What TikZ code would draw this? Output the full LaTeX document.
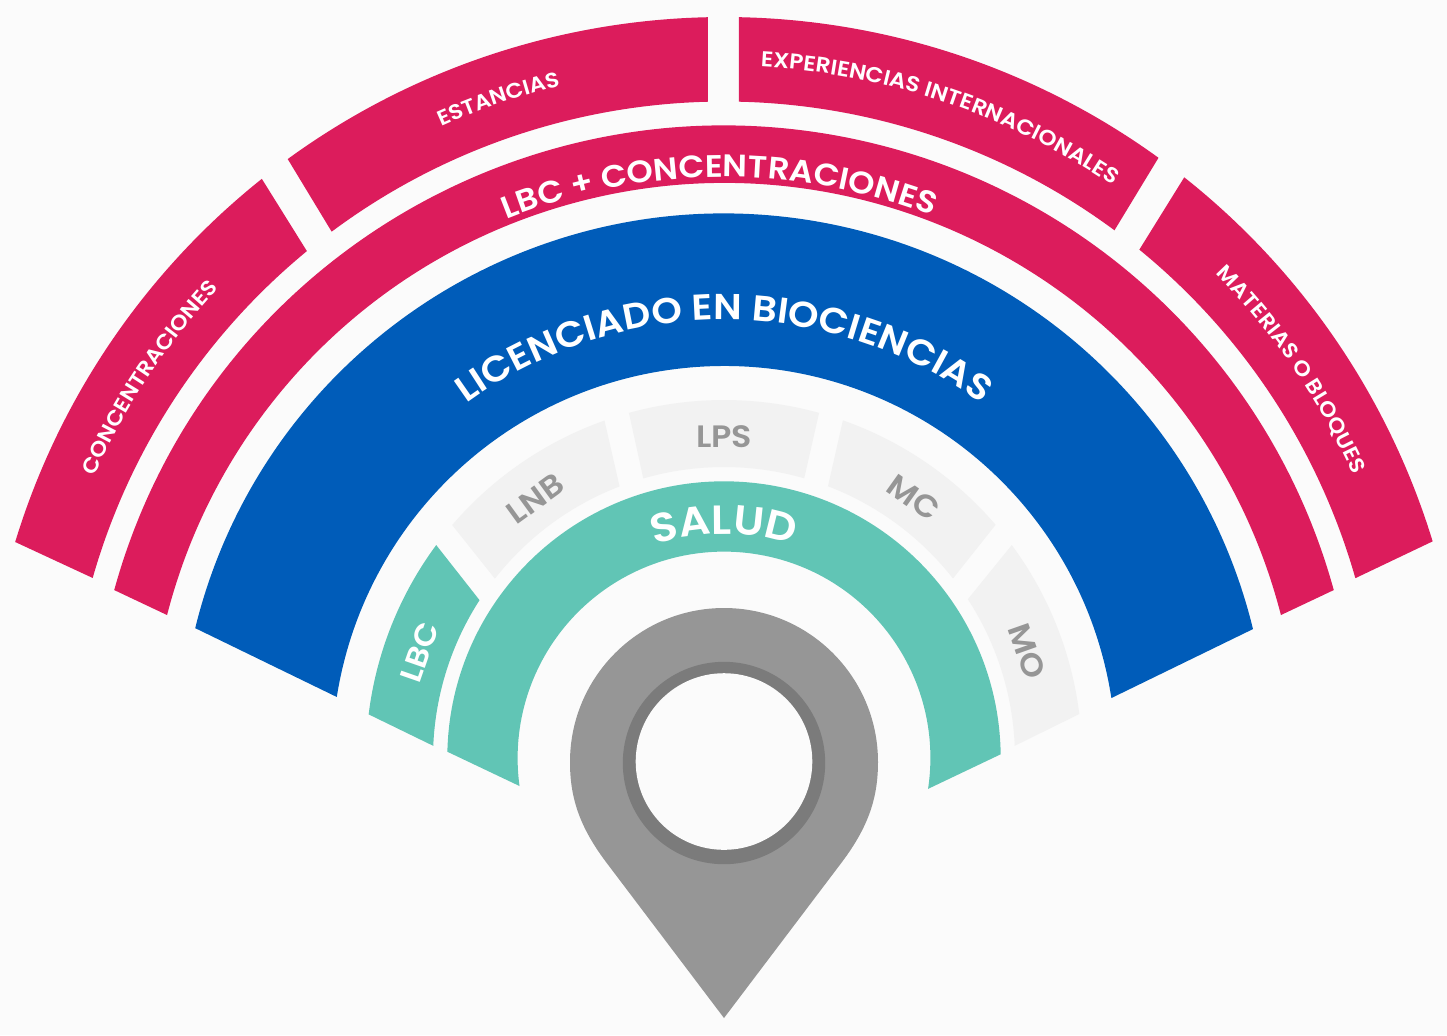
\documentclass[tikz,border=0pt]{standalone}
\usepackage{xcolor}
\usepackage{fontspec}
\setmainfont{Poppins}[BoldFont={Poppins SemiBold}, FakeStretch=1.08]
\usepackage{tikz}
\usetikzlibrary{decorations.text}

\definecolor{rosa}{HTML}{DC1C5C}
\definecolor{azul}{HTML}{005CB9}
\definecolor{verde}{HTML}{61C5B5}
\definecolor{claro}{HTML}{F2F2F2}
\definecolor{fondo}{HTML}{FBFBFB}
\definecolor{gris}{HTML}{969696}
\definecolor{anillo}{HTML}{7B7B7B}

\newcommand{\fuente}[1]{\fontsize{#1}{#1}\selectfont\bfseries}

\tikzset{
  arclabel/.style={decorate, decoration={text along path, text align=center}},
  shortwhite/.style={text=white, font=\fuente{8.6}, inner sep=0pt},
  shortgray/.style={text=gris, font=\fuente{8.8}, inner sep=0pt}
}

\begin{document}
\begin{tikzpicture}
    \fill[fondo] (-7.24, -2.77) rectangle (7.23, 7.58);
    \useasboundingbox (-7.24, -2.77) rectangle (7.23, 7.58);

    % outer ring
    \fill[rosa] (163.05:7.41) arc (163.05:128.59:7.41) -- (129.45:6.565) arc (129.45:164.08:6.565) -- cycle;
    \fill[rosa] (126.07:7.41) arc (126.07:91.24:7.41) -- (91.4:6.565) arc (91.4:126.7:6.565) -- cycle;
    \fill[rosa] (88.84:7.41) arc (88.84:54.1:7.41) -- (53.5:6.565) arc (53.5:88.7:6.565) -- cycle;
    \fill[rosa] (51.6:7.41) arc (51.6:17:7.41) -- (15.9:6.565) arc (15.9:50.75:6.565) -- cycle;

    \fill[rosa] (164.6:6.325) arc (164.6:15.4:6.325) -- (14.4:5.75) arc (14.4:165.6:5.75) -- cycle;
    \fill[azul] (166.2:5.445) arc (166.2:13.7:5.445) -- (8.8:3.92) arc (8.8:171.04:3.92) -- cycle;

    % small ring
    \fill[verde] (173:3.58) arc (173:143.5:3.58) -- (147.15:2.91) arc (147.15:177.6:2.91) -- cycle;
    \fill[claro] (139.4:3.58) arc (139.4:109.5:3.58) -- (111.04:2.91) arc (111.04:141.94:2.91) -- cycle;
    \fill[claro] (105.4:3.58) arc (105.4:74.6:3.58) -- (74:2.91) arc (74:106.1:2.91) -- cycle;
    \fill[claro] (70.6:3.58) arc (70.6:40.65:3.58) -- (38.1:2.91) arc (38.1:69.06:2.91) -- cycle;
    \fill[claro] (36.5:3.58) arc (36.5:7.07:3.58) -- (2.4:2.91) arc (2.4:33.07:2.91) -- cycle;

    \fill[verde] (178.7:2.767) arc (178.7:0.77:2.767) -- (-8.6:2.064) arc (-8.6:187.8:2.064) -- cycle;

    % marker
    \fill[gris] (0, -2.6) -- (-1.18, -1.04) .. controls (-1.45, -0.68) and (-1.54, -0.39) .. (-1.54, -0.04)
      arc (180:0:1.54) .. controls (1.54, -0.39) and (1.45, -0.68) .. (1.18, -1.04) -- cycle;
    \fill[anillo] (0, -0.05) circle (1.012);
    \fill[fondo] (0, -0.035) circle (0.883);

    % labels
    \path[arclabel, decoration={text={|\color{white}\fuente{6.0}|CONCENTRACIONES}}] (176.5:6.9) arc (176.5:116.5:6.9);
    \path[arclabel, decoration={text={|\color{white}\fuente{6.0}|ESTANCIAS}}] (138.9:6.92) arc (138.9:78.9:6.92);
    \path[arclabel, decoration={text={|\color{white}\fuente{6.1}|EXPERIENCIAS INTERNACIONALES}}] (111.4:6.92) arc (111.4:31.4:6.92);
    \path[arclabel, decoration={text={|\color{white}\fuente{6.0}|MATERIAS O BLOQUES}}] (64.4:6.9) arc (64.4:4.4:6.9);

    \path[arclabel, decoration={text={|\color{white}\fuente{8.85}|LBC + CONCENTRACIONES}}] (130.5:5.81) arc (130.5:50.5:5.81);
    \path[arclabel, decoration={text={|\color{white}\fuente{10.25}|LICENCIADO EN BIOCIENCIAS}}] (150:4.38) arc (150:30:4.38);
    \path[arclabel, decoration={text={|\color{white}\fuente{11.6}|SALUD}}] (135:2.24) arc (135:45:2.24);

    \node[shortwhite, rotate=70.8] at (160.8:3.22) (lbc) {LBC};
    \node[shortgray, rotate=36] at (126:3.21) (lnb) {LNB};
    \node[shortgray] at (90:3.21) (lps) {LPS};
    \node[shortgray, rotate=-35.5] at (53.9:3.22) (mc) {MC};
    \node[shortgray, rotate=-70.6] at (19.4:3.21) (mo) {MO};
\end{tikzpicture}
\end{document}
